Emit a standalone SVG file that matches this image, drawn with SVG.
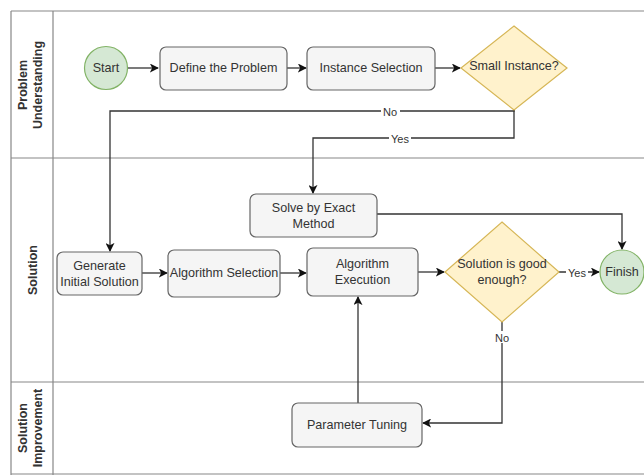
<svg xmlns="http://www.w3.org/2000/svg" width="644" height="475" viewBox="0 0 644 475">
<style>
text{font-family:"Liberation Sans",Arial,sans-serif;font-size:12.6px;fill:#333;}
.hdr{font-weight:bold;font-size:12.5px;fill:#333;}
.lane{fill:none;stroke:#888;stroke-width:1.2;}
.box{fill:#f5f5f5;stroke:#666;stroke-width:1.2;}
.term{fill:#d5e8d4;stroke:#82b366;stroke-width:1.2;}
.dec{fill:#fff2cc;stroke:#d6b656;stroke-width:1.2;}
.edge{fill:none;stroke:#333;stroke-width:1.3;}
.lbl{font-size:11px;}
</style>
<defs>
<marker id="arr" viewBox="0 0 10 10" refX="9" refY="5" markerWidth="9" markerHeight="9" markerUnits="userSpaceOnUse" orient="auto">
<path d="M0,0 L10,5 L0,10 L2.5,5 Z" fill="#111"/>
</marker>
</defs>
<rect width="644" height="475" fill="#fff"/>
<g id="lanes">
<path class="lane" d="M11,11 H644 M11,11 V475 M53,11 V475 M11,158 H644 M11,382 H644 M11,474 H644"/>
<text class="hdr" text-anchor="middle" transform="translate(30,85) rotate(-90)"><tspan x="0" y="-3">Problem</tspan><tspan x="0" y="12">Understanding</tspan></text>
<text class="hdr" text-anchor="middle" transform="translate(37,270) rotate(-90)">Solution</text>
<text class="hdr" text-anchor="middle" transform="translate(30,428) rotate(-90)"><tspan x="0" y="-3">Solution</tspan><tspan x="0" y="12">Improvement</tspan></text>
</g>
<g id="connectors">
<path class="edge" marker-end="url(#arr)" d="M128,68 H158"/>
<path class="edge" marker-end="url(#arr)" d="M287,68 H306"/>
<path class="edge" marker-end="url(#arr)" d="M435,68 H460"/>
<path class="edge" marker-end="url(#arr)" d="M514,110 V111 H110 V251"/>
<path class="edge" marker-end="url(#arr)" d="M514,110 V138 H313 V193"/>
<path class="edge" marker-end="url(#arr)" d="M377,214 H622 V249"/>
<path class="edge" marker-end="url(#arr)" d="M142,273 H167"/>
<path class="edge" marker-end="url(#arr)" d="M280,273 H306"/>
<path class="edge" marker-end="url(#arr)" d="M418,272 H444"/>
<path class="edge" marker-end="url(#arr)" d="M559,272 H599"/>
<path class="edge" marker-end="url(#arr)" d="M502,322 V423 H423"/>
<path class="edge" marker-end="url(#arr)" d="M358,403 V297"/>
<rect x="381" y="105" width="19" height="12" fill="#fff"/>
<text class="lbl" x="390" y="115.5" text-anchor="middle">No</text>
<rect x="389" y="132" width="22" height="12" fill="#fff"/>
<text class="lbl" x="400" y="142.5" text-anchor="middle">Yes</text>
<rect x="566" y="266" width="22" height="12" fill="#fff"/>
<text class="lbl" x="577" y="276.5" text-anchor="middle">Yes</text>
<rect x="493" y="331" width="19" height="12" fill="#fff"/>
<text class="lbl" x="502" y="341.5" text-anchor="middle">No</text>
</g>
<g id="start">
<circle class="term" cx="106" cy="68" r="21.5"/>
<text x="106" y="72" text-anchor="middle">Start</text>
</g>
<g id="define">
<rect class="box" x="160" y="47" width="127" height="43" rx="6"/>
<text x="223.5" y="72" text-anchor="middle">Define the Problem</text>
</g>
<g id="instance">
<rect class="box" x="307" y="47" width="128" height="43" rx="6"/>
<text x="371" y="72" text-anchor="middle">Instance Selection</text>
</g>
<g id="small">
<path class="dec" d="M514,26 L567,68 L514,110 L461,68 Z"/>
<text x="514" y="70" text-anchor="middle">Small Instance?</text>
</g>
<g id="exact">
<rect class="box" x="250" y="194" width="127" height="43" rx="6"/>
<text x="313.5" y="212" text-anchor="middle">Solve by Exact</text>
<text x="313.5" y="228" text-anchor="middle">Method</text>
</g>
<g id="generate">
<rect class="box" x="57" y="252" width="85" height="43" rx="6"/>
<text x="99.5" y="270" text-anchor="middle">Generate</text>
<text x="99.5" y="286" text-anchor="middle">Initial Solution</text>
</g>
<g id="algsel">
<rect class="box" x="168" y="250" width="112" height="47" rx="6"/>
<text x="224" y="277" text-anchor="middle">Algorithm Selection</text>
</g>
<g id="algexec">
<rect class="box" x="307" y="248" width="111" height="48" rx="6"/>
<text x="362.5" y="268" text-anchor="middle">Algorithm</text>
<text x="362.5" y="284" text-anchor="middle">Execution</text>
</g>
<g id="good">
<path class="dec" d="M502,222 L559,272 L502,322 L445,272 Z"/>
<text x="502" y="268" text-anchor="middle">Solution is good</text>
<text x="502" y="284" text-anchor="middle">enough?</text>
</g>
<g id="finish">
<circle class="term" cx="622" cy="272" r="22"/>
<text x="622" y="276" text-anchor="middle">Finish</text>
</g>
<g id="tuning">
<rect class="box" x="292" y="403" width="130" height="44" rx="6"/>
<text x="357" y="429" text-anchor="middle">Parameter Tuning</text>
</g>
</svg>
